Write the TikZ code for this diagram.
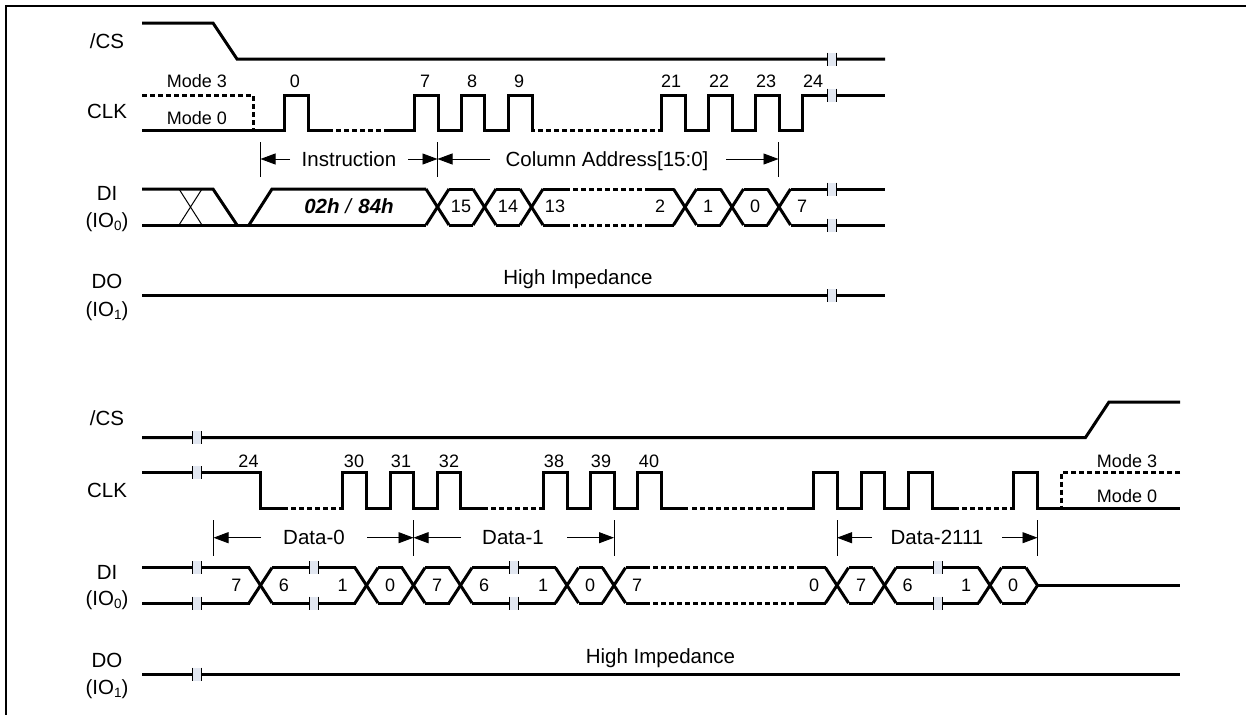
\documentclass[tikz,border=0pt]{standalone}
\usepackage{fontspec}
\setmainfont{Liberation Sans}
\usetikzlibrary{arrows.meta}
\definecolor{breakfill}{HTML}{E2E7F1}
\newcommand{\sz}[1]{\fontsize{#1}{#1}\selectfont}
\newcommand{\subd}[1]{\raisebox{-3.5pt}{\sz{13.5}#1}}
\tikzset{
  sig/.style={line width=3pt,line join=miter,line cap=butt},
  sigdash/.style={line width=3pt,dash pattern=on 5pt off 3pt},
  thin1/.style={line width=1pt},
  dim/.style={line width=.9pt,-{Triangle[length=15pt,width=11pt]}},
  big/.style={inner sep=0pt,text height=14.8pt,text depth=0pt,font=\sz{20.5}},
  num/.style={inner sep=0pt,text height=13pt,text depth=0pt,font=\sz{18}}
}
% break mark on a signal line
\newcommand{\brk}[2]{%
  \fill[breakfill] (#1-4.5,#2-6.5) rectangle (#1+4.5,#2+6.5);
  \draw[thin1] (#1-4.5,#2-6.5) -- (#1-4.5,#2+6.5) (#1+4.5,#2-6.5) -- (#1+4.5,#2+6.5);
}
% bus crossing
\newcommand{\xing}[3]{%
  \draw[sig] (#1-11.5,#2) -- (#1+11.5,#3);
  \draw[sig] (#1-11.5,#3) -- (#1+11.5,#2);
}
% flat part of a bus, on both rails
\newcommand{\flats}[4]{%
  \draw[sig] (#1,#3) -- (#2,#3) (#1,#4) -- (#2,#4);
}
\newcommand{\dflats}[4]{%
  \draw[sigdash] (#1,#3) -- (#2,#3) (#1,#4) -- (#2,#4);
}
\begin{document}
\begin{tikzpicture}[x=1pt,y=-1pt]
\useasboundingbox (0,0) rectangle (1246,715);
\fill[white] (0,0) rectangle (1246,715);
\draw[line width=2.2pt] (1246,6) -- (6,6) -- (6,715);

%%%%%%%%% upper block
% /CS
\draw[sig] (142,23) -- (213,23) -- (237,59) -- (885,59);
% CLK
\draw[sigdash] (142,95) -- (253,95) -- (253,130);
\draw[sig] (142,130) -- (284,130) -- (284,95) -- (308,95) -- (308,130) -- (333,130);
\draw[sigdash] (336,130) -- (389,130);
\draw[sig] (389,130) -- (414,130) -- (414,95) -- (438,95) -- (438,130) -- (461,130) -- (461,95) -- (484,95) -- (484,130) -- (508,130) -- (508,95) -- (532,95) -- (532,130) -- (535,130);
\draw[sigdash] (538,130) -- (661,130);
\draw[sig] (661,131.5) -- (661,95) -- (685,95) -- (685,130) -- (708,130) -- (708,95) -- (732,95) -- (732,130) -- (755,130) -- (755,95) -- (779,95) -- (779,130) -- (802,130) -- (802,95) -- (885,95);
% dimension lines
\draw[thin1] (260.5,142) -- (260.5,177) (437.5,142) -- (437.5,177) (778.5,142) -- (778.5,177);
\coordinate (d1a) at (290,159); \coordinate (d1b) at (260.5,159);
\coordinate (d2a) at (408,159); \coordinate (d2b) at (437.5,159);
\coordinate (d3a) at (490,159); \coordinate (d3b) at (437.5,159);
\coordinate (d4a) at (726,159); \coordinate (d4b) at (778.5,159);
\draw[dim] (d1a) -- (d1b);
\draw[dim] (d2a) -- (d2b);
\draw[dim] (d3a) -- (d3b);
\draw[dim] (d4a) -- (d4b);
% DI
\draw[thin1] (179,189) -- (202,225) (179,225) -- (202,189);
\draw[sig] (142,189) -- (213,189) -- (237,225);
\draw[sig] (142,225) -- (426,225);
\draw[sig] (249,225) -- (272,189) -- (426,189);
\xing{437.5}{189}{225}
\flats{449}{473}{189}{225}
\xing{484.5}{189}{225}
\flats{496}{520}{189}{225}
\xing{531.5}{189}{225}
\flats{543}{570}{189}{225}
\dflats{573}{648}{189}{225}
\flats{648}{673.5}{189}{225}
\xing{685}{189}{225}
\flats{696.5}{720.5}{189}{225}
\xing{732}{189}{225}
\flats{743.5}{767.5}{189}{225}
\xing{779}{189}{225}
\flats{790.5}{885}{189}{225}
% DO
\draw[sig] (142,295.5) -- (885,295.5);
% breaks
\brk{831.5}{59}\brk{831.5}{95}\brk{831.5}{189}\brk{831.5}{225}\brk{831.5}{295.5}
% labels
\node[big] (cs1) at (107,41) {/CS};
\node[big] (clk1) at (107,111) {CLK};
\node[big] (di1) at (107,193) {DI};
\node[big] (io01) at (107,220) {(IO\subd{0})};
\node[big] (do1) at (107,281) {DO};
\node[big] (io11) at (107,309) {(IO\subd{1})};
\node[num] (m3a) at (197,81) {Mode 3};
\node[num] (m0a) at (197,118) {Mode 0};
\foreach \x/\t in {295/0,425/7,472/8,519/9,671/21,719/22,766/23,813/24}
  \node[num] (ca\t) at (\x,81) {\t};
\node[big] (instr) at (349,159) {Instruction};
\node[big] (coladdr) at (607,159) {Column Address[15:0]};
\node[big] (cmd) at (349,206) {\textbf{\textit{02h}} \textit{/} \textbf{\textit{84h}}};
\foreach \x/\t in {461/15,508/14,555/13,660/2,708/1,755/0,802/7}
  \node[num] (ba\t) at (\x,206) {\t};
\node[big] (hia) at (578,277) {High Impedance};

%%%%%%%%% lower block
% /CS
\draw[sig] (142,437.5) -- (1085.5,437.5) -- (1109,402) -- (1180,402);
% CLK
\draw[sig] (142,472.7) -- (260,472.7) -- (260,508) -- (288,508);
\draw[sigdash] (291,508) -- (342,508);
\draw[sig] (342,509.5) -- (342,472.7) -- (366,472.7) -- (366,508) -- (390,508) -- (390,472.7) -- (413.5,472.7) -- (413.5,508) -- (437,508) -- (437,472.7) -- (460.5,472.7) -- (460.5,508) -- (488,508);
\draw[sigdash] (491,508) -- (543,508);
\draw[sig] (543,509.5) -- (543,472.7) -- (567,472.7) -- (567,508) -- (590,508) -- (590,472.7) -- (614,472.7) -- (614,508) -- (637,508) -- (637,472.7) -- (661,472.7) -- (661,508) -- (688,508);
\draw[sigdash] (692,508) -- (784,508);
\draw[sig] (787,508) -- (813,508) -- (813,472.7) -- (837,472.7) -- (837,508) -- (861,508) -- (861,472.7) -- (884,472.7) -- (884,508) -- (908,508) -- (908,472.7) -- (932,472.7) -- (932,508) -- (959,508);
\draw[sigdash] (962,508) -- (1013,508);
\draw[sig] (1013,509.5) -- (1013,472.7) -- (1037,472.7) -- (1037,508) -- (1180,508);
\draw[sigdash] (1180,472.7) -- (1061,472.7) -- (1061,508);
% dimension lines
\draw[thin1] (213.5,520) -- (213.5,556) (413.5,520) -- (413.5,556) (614,520) -- (614,556) (837,520) -- (837,556) (1037.5,520) -- (1037.5,556);
\coordinate (d5a) at (261,537.7); \coordinate (d5b) at (213.5,537.7);
\coordinate (d6a) at (367,537.7); \coordinate (d6b) at (413.5,537.7);
\coordinate (d7a) at (461,537.7); \coordinate (d7b) at (413.5,537.7);
\coordinate (d8a) at (567,537.7); \coordinate (d8b) at (614,537.7);
\coordinate (d9a) at (872,537.7); \coordinate (d9b) at (837,537.7);
\coordinate (d10a) at (1002,537.7); \coordinate (d10b) at (1037.5,537.7);
\draw[dim] (d5a) -- (d5b);
\draw[dim] (d6a) -- (d6b);
\draw[dim] (d7a) -- (d7b);
\draw[dim] (d8a) -- (d8b);
\draw[dim] (d9a) -- (d9b);
\draw[dim] (d10a) -- (d10b);
% DI
\flats{142}{249.5}{567.7}{603}
\xing{260.5}{567.7}{603}
\flats{271.5}{355.5}{567.7}{603}
\xing{366.5}{567.7}{603}
\flats{378}{402.5}{567.7}{603}
\xing{413.5}{567.7}{603}
\flats{425}{449.5}{567.7}{603}
\xing{460.5}{567.7}{603}
\flats{472}{556}{567.7}{603}
\xing{567}{567.7}{603}
\flats{578.5}{603}{567.7}{603}
\xing{614}{567.7}{603}
\flats{625.5}{650}{567.7}{603}
\dflats{653}{800}{567.7}{603}
\flats{800}{826}{567.7}{603}
\xing{837}{567.7}{603}
\flats{848.5}{873}{567.7}{603}
\xing{884.5}{567.7}{603}
\flats{896}{979}{567.7}{603}
\xing{990}{567.7}{603}
\flats{1001.5}{1026}{567.7}{603}
\draw[sig] (1026,567.7) -- (1037.5,585.4) -- (1026,603);
\draw[sig] (1037.5,585.4) -- (1180,585.4);
% DO
\draw[sig] (142,674) -- (1180,674);
% breaks
\brk{196.5}{437.5}\brk{196.5}{472.7}\brk{196.5}{567.7}\brk{196.5}{603}\brk{196.5}{674}
\brk{313.5}{567.7}\brk{313.5}{603}
\brk{514}{567.7}\brk{514}{603}
\brk{937.5}{567.7}\brk{937.5}{603}
% labels
\node[big] (cs2) at (107,418) {/CS};
\node[big] (clk2) at (107,490) {CLK};
\node[big] (di2) at (107,572) {DI};
\node[big] (io02) at (107,598) {(IO\subd{0})};
\node[big] (do2) at (107,660) {DO};
\node[big] (io12) at (107,687) {(IO\subd{1})};
\foreach \x/\t in {248.5/24,354/30,401/31,449/32,554/38,601/39,649/40}
  \node[num] (cb\t) at (\x,461) {\t};
\node[num] (m3b) at (1127,461) {Mode 3};
\node[num] (m0b) at (1127,496) {Mode 0};
\node[big] (d0t) at (314,537) {Data-0};
\node[big] (d1t) at (513,537) {Data-1};
\node[big] (d2t) at (937,537) {Data-2111};
\foreach \x/\t [count=\i] in {236.5/7,284/6,342.5/1,390/0,437/7,484/6,543/1,590/0,637/7,814/0,861/7,907.5/6,966/1,1013/0}
  \node[num] (bb\i) at (\x,585) {\t};
\node[big] (hib) at (660.5,656) {High Impedance};
\end{tikzpicture}
\end{document}
